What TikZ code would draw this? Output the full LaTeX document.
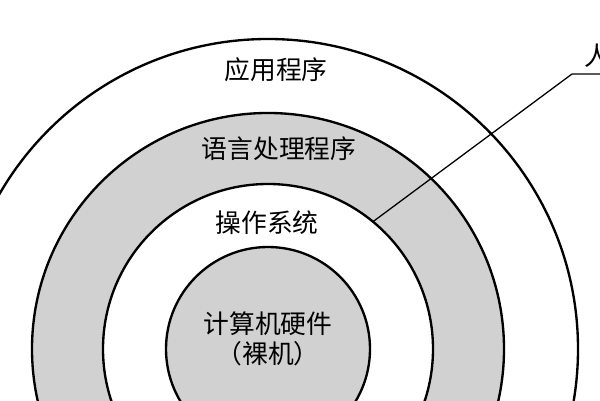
\documentclass[tikz,border=0pt]{standalone}
\usepackage{fontspec}
\newfontfamily\cjk{Noto Sans CJK SC}
\usepackage{tikz}
\usetikzlibrary{positioning,calc}
\definecolor{ringgray}{RGB}{209,209,209}
\tikzstyle{ring}=[%
      draw=black, line width=2pt
]
\tikzstyle{lbl}=[%
      font=\cjk\fontsize{22}{26}\selectfont, text=black, inner sep=0pt, align=center
]

\begin{document}
\begin{tikzpicture}[x=0.03cm, y=0.03cm,
    leader/.style={draw=black, line width=1.1pt},
]
    \clip (0,0) rectangle (600,400);
    \fill[white] (0,0) rectangle (600,400);
    \coordinate (c) at (268,51);

    % rings, from the outside in
    \draw[ring, fill=white]    (c) circle (310);
    \draw[ring, fill=ringgray] (c) circle (236);
    \draw[ring, fill=white]    (c) circle (165);
    \draw[ring, fill=ringgray] (c) circle (102);

    \node[lbl] (app)  at (276,330) {应用程序};
    \node[lbl] (lang) at (279,251) {语言处理程序};
    \node[lbl] (os)   at (267,177) {操作系统};
    \node[lbl] (hw)   at (268,61)  {计算机硬件\\（裸机）};

    % leader to the cut-off label
    \coordinate (foot) at ($(c)+(50.5:165)$);
    \coordinate (knee) at (572,326);
    \coordinate (tail) at (610,326);
    \node[lbl, anchor=west] (user) at (584,344) {人};
    \draw[leader] (foot) -- (knee) -- (tail);
\end{tikzpicture}
\end{document}
